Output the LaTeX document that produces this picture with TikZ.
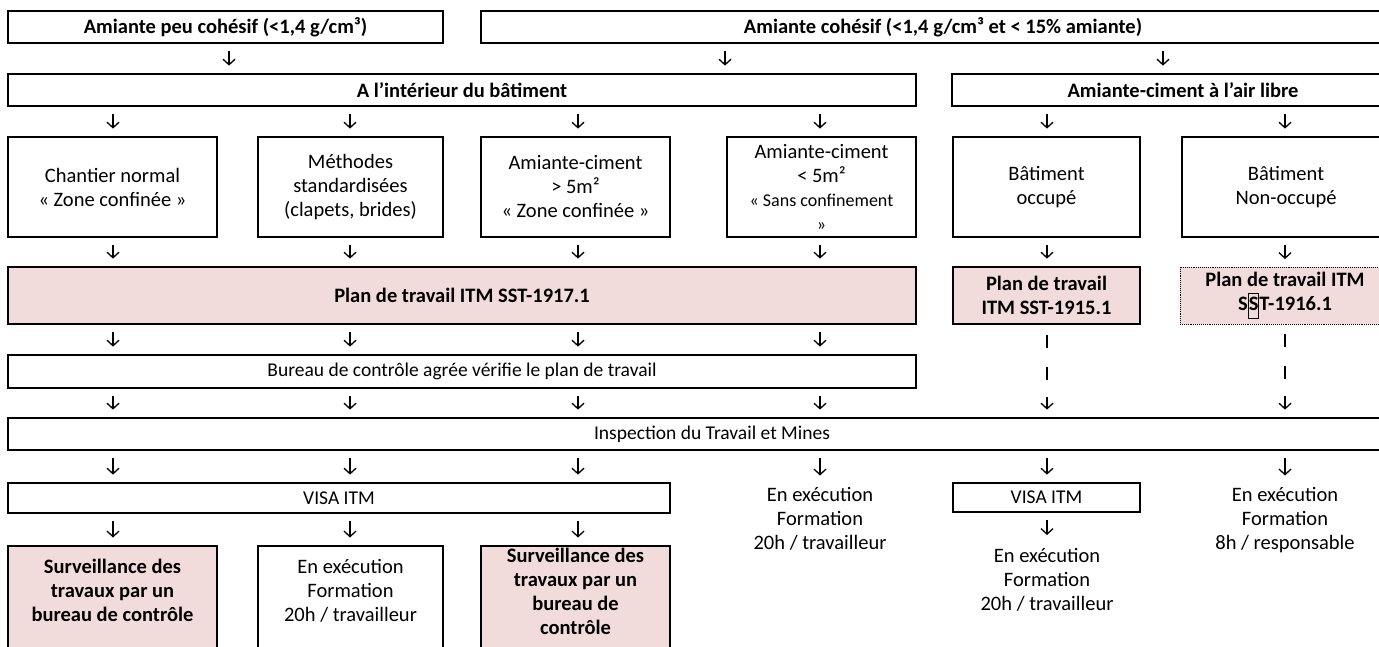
\documentclass[tikz,border=0pt]{standalone}
\usepackage{fontspec}
\setmainfont{Carlito}
\usetikzlibrary{arrows.meta}
\definecolor{pinkfill}{HTML}{F2DCDB}

\begin{document}
\begin{tikzpicture}[x=1pt,y=-1pt,
  every node/.style={font=\fontsize{20.5}{24}\selectfont, align=center, inner sep=0pt},
  box/.style={draw, line width=1.8pt, fill=white},
  hdr/.style={box, font=\fontsize{20.5}{24}\selectfont\bfseries},
  pinkbox/.style={box, fill=pinkfill, font=\fontsize{20.5}{24}\selectfont\bfseries},
  plain/.style={font=\fontsize{20.5}{24}\selectfont},
  bar/.style={box, font=\fontsize{19.5}{24}\selectfont},
  boldtext/.style={font=\fontsize{20.5}{24}\selectfont\bfseries},
  dn/.style={-{Straight Barb[length=5.5pt,width=12pt]}, line width=1.3pt,
             shorten <=7.5pt, shorten >=7.5pt},
  imark/.style={line width=2.6pt, shorten <=10pt,
                dash pattern=on 13pt off 19pt on 13pt off 300pt}
]
\useasboundingbox (0,0) rectangle (1379,646);
\clip (0,0) rectangle (1379,646);
\fill[white] (0,0) rectangle (1379,646);

% columns of the arrows
\coordinate (ca) at (229,0);
\coordinate (cb) at (725,0);
\coordinate (cc) at (1163,0);
\coordinate (cx1) at (113,0);
\coordinate (cx2) at (350,0);
\coordinate (cx3) at (578,0);
\coordinate (cx4) at (820,0);
\coordinate (cx5) at (1047,0);
\coordinate (cx6) at (1285,0);

% row 1: kinds of asbestos
\node[hdr, minimum width=435, minimum height=32] (peu) at (225.5,27) {Amiante peu cohésif (<1,4 g/cm³)};
\node[hdr, minimum width=924, minimum height=32] (coh) at (943,27) {Amiante cohésif (<1,4 g/cm³ et < 15\% amiante)};

% row 2: where
\node[hdr, minimum width=908, minimum height=32] (inter) at (462,90) {A l’intérieur du bâtiment};
\node[hdr, minimum width=462, minimum height=32] (libre) at (1183,90) {Amiante-ciment à l’air libre};

% row 3: kinds of site
\node[box, minimum width=209, minimum height=100] (chantier) at (112.5,187) {Chantier normal\\« Zone confinée »};
\node[box, minimum width=185, minimum height=100] (methodes) at (350.5,187) {Méthodes\\standardisées\\(clapets, brides)};
\node[box, minimum width=189, minimum height=100] (acplus) at (575.5,187) {Amiante-ciment\\> 5m²\\« Zone confinée »};
\node[box, minimum width=189, minimum height=100] (acmoins) at (821.5,187) {Amiante-ciment\\< 5m²\\{\fontsize{18}{21}\selectfont « Sans confinement}\\{\fontsize{18}{21}\selectfont »}};
\node[box, minimum width=187, minimum height=100] (occupe) at (1046.5,187) {Bâtiment\\occupé};
\node[box, minimum width=208, minimum height=100] (nonocc) at (1286,187) {Bâtiment\\Non-occupé};

% row 4: work plans
\node[pinkbox, minimum width=908, minimum height=57] (plan17) at (462,295.5) {Plan de travail ITM SST-1917.1};
\node[pinkbox, minimum width=187, minimum height=57] (plan15) at (1046.5,295.5) {Plan de travail\\ITM SST-1915.1};
\node[pinkbox, line width=0.9pt, densely dotted, minimum width=210, minimum height=57] (plan16) at (1285,295.5)
  {Plan de travail ITM\\S{\setlength{\fboxsep}{0pt}\setlength{\fboxrule}{1pt}\fbox{\strut S}}T-1916.1};

% rows 5 and 6
\node[bar, minimum width=908, minimum height=33] (bureau) at (462,371.5) {Bureau de contrôle agrée vérifie le plan de travail};
\node[bar, minimum width=1408, minimum height=32] (itm) at (712,434) {Inspection du Travail et Mines};

% row 7
\node[bar, minimum width=662, minimum height=30] (visa) at (339,498) {VISA ITM};
\node[bar, minimum width=187, minimum height=29] (visab) at (1046.5,497.5) {VISA ITM};
\node[plain, anchor=north, inner ysep=1pt] (execd) at (820,483) {\strut En exécution\\Formation\\20h / travailleur};
\node[plain, anchor=north, inner ysep=1pt] (execf) at (1285,483) {\strut En exécution\\Formation\\8h / responsable};
\node[plain, anchor=north, inner ysep=3pt] (exece) at (1047,542.5) {\strut En exécution\\Formation\\20h / travailleur};

% row 8: follow-up
\node[pinkbox, anchor=north, minimum width=209, minimum height=160] (surv1) at (112.5,545) {};
\node[box, anchor=north, minimum width=185, minimum height=160] (exec2) at (350.5,545) {};
\node[pinkbox, anchor=north, minimum width=189, minimum height=160] (surv3) at (575.5,545) {};
\node[boldtext, anchor=north] (surv1t) at (112.5,556.7) {\strut Surveillance des\\travaux par un\\bureau de contrôle};
\node[plain, anchor=north] (exec2t) at (350.5,556.7) {\strut En exécution\\Formation\\20h / travailleur};
\node[boldtext, anchor=north] (surv3t) at (575.5,545.7) {\strut Surveillance des\\travaux par un\\bureau de\\contrôle};

% arrows
\draw[dn] (peu.south -| ca) -- (inter.north -| ca);
\draw[dn] (coh.south -| cb) -- (inter.north -| cb);
\draw[dn] (coh.south -| cc) -- (libre.north -| cc);

\foreach \c/\n in {cx1/chantier, cx2/methodes, cx3/acplus, cx4/acmoins}
  \draw[dn] (inter.south -| \c) -- (\n.north -| \c);
\draw[dn] (libre.south -| cx5) -- (occupe.north -| cx5);
\draw[dn] (libre.south -| cx6) -- (nonocc.north -| cx6);

\foreach \c/\n in {cx1/chantier, cx2/methodes, cx3/acplus, cx4/acmoins}
  \draw[dn] (\n.south -| \c) -- (plan17.north -| \c);
\draw[dn] (occupe.south -| cx5) -- (plan15.north -| cx5);
\draw[dn] (nonocc.south -| cx6) -- (plan16.north -| cx6);

\foreach \c in {cx1, cx2, cx3, cx4} {
  \draw[dn] (plan17.south -| \c) -- (bureau.north -| \c);
  \draw[dn] (bureau.south -| \c) -- (itm.north -| \c);
}
\draw[imark] (plan15.south -| cx5) -- (itm.north -| cx5);
\draw[dn, shorten <=72pt] (plan15.south -| cx5) -- (itm.north -| cx5);
\draw[imark] (plan16.south -| cx6) -- (itm.north -| cx6);
\draw[dn, shorten <=72pt] (plan16.south -| cx6) -- (itm.north -| cx6);

\foreach \c in {cx1, cx2, cx3}
  \draw[dn] (itm.south -| \c) -- (visa.north -| \c);
\draw[dn] (itm.south -| cx4) -- (execd.north -| cx4);
\draw[dn] (itm.south -| cx5) -- (visab.north -| cx5);
\draw[dn] (itm.south -| cx6) -- (execf.north -| cx6);

\draw[dn] (visa.south -| cx1) -- (surv1.north -| cx1);
\draw[dn] (visa.south -| cx2) -- (exec2.north -| cx2);
\draw[dn] (visa.south -| cx3) -- (surv3.north -| cx3);
\draw[dn] (visab.south -| cx5) -- (exece.north -| cx5);
\end{tikzpicture}
\end{document}
